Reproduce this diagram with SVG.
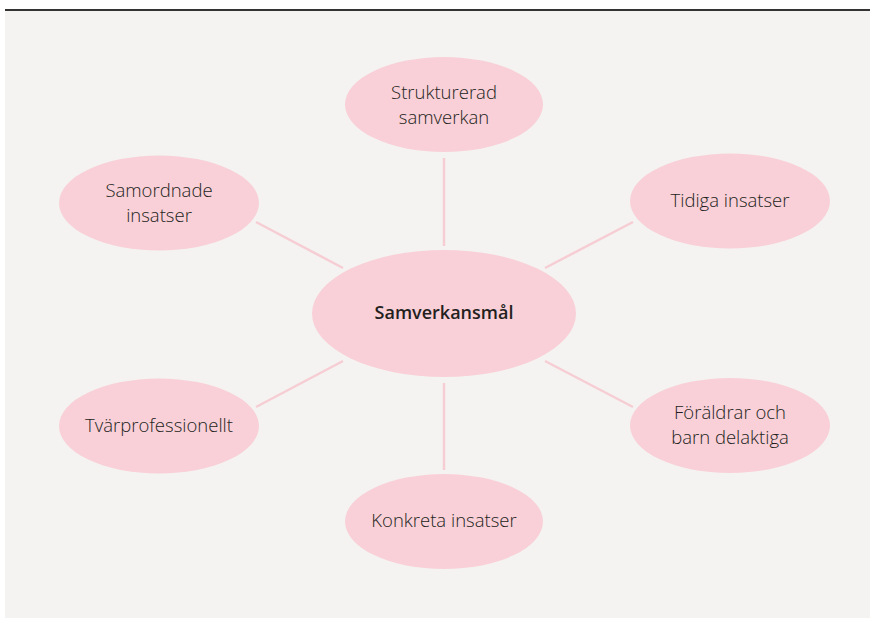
<svg xmlns="http://www.w3.org/2000/svg" width="870" height="618" viewBox="0 0 870 618">
<style>
.n{fill:#f9d0d8}
.t{font-family:"Open Sans","Noto Sans",sans-serif;font-size:18.5px;fill:#231f20;text-anchor:middle;font-weight:300}
.c{font-weight:600;font-size:18px}
.l{stroke:#f7cdd4;stroke-width:2.5;fill:none}
</style>
<rect x="0" y="0" width="870" height="618" fill="#ffffff"/>
<rect x="5" y="10" width="865" height="608" fill="#f4f3f1"/>
<line x1="5" y1="10" x2="870" y2="10" stroke="#333" stroke-width="2"/>
<g id="connectors">
<line class="l" x1="444" y1="158" x2="444" y2="246"/>
<line class="l" x1="444" y1="383" x2="444" y2="470"/>
<line class="l" x1="256" y1="222" x2="343" y2="268"/>
<line class="l" x1="545" y1="268" x2="633" y2="222"/>
<line class="l" x1="256" y1="407" x2="343" y2="361"/>
<line class="l" x1="545" y1="361" x2="633" y2="407"/>
</g>
<g id="center"><ellipse class="n" cx="444" cy="313.5" rx="132" ry="63.5"/><text class="t c" x="444" y="319">Samverkansmål</text></g>
<g id="strukturerad"><ellipse class="n" cx="444" cy="104.5" rx="99" ry="47.5"/><text class="t" x="444" y="99">Strukturerad</text><text class="t" x="444" y="124">samverkan</text></g>
<g id="samordnade"><ellipse class="n" cx="159" cy="203" rx="100" ry="47.5"/><text class="t" x="159" y="197">Samordnade</text><text class="t" x="159" y="222">insatser</text></g>
<g id="tidiga"><ellipse class="n" cx="730" cy="201" rx="100" ry="47.5"/><text class="t" x="730" y="207">Tidiga insatser</text></g>
<g id="tvarprof"><ellipse class="n" cx="159" cy="426" rx="100" ry="47.5"/><text class="t" x="159" y="432">Tvärprofessionellt</text></g>
<g id="foraldrar"><ellipse class="n" cx="730" cy="425.5" rx="100" ry="47.5"/><text class="t" x="730" y="419">Föräldrar och</text><text class="t" x="730" y="444">barn delaktiga</text></g>
<g id="konkreta"><ellipse class="n" cx="444" cy="521.5" rx="99" ry="47.5"/><text class="t" x="444" y="527">Konkreta insatser</text></g>
</svg>
